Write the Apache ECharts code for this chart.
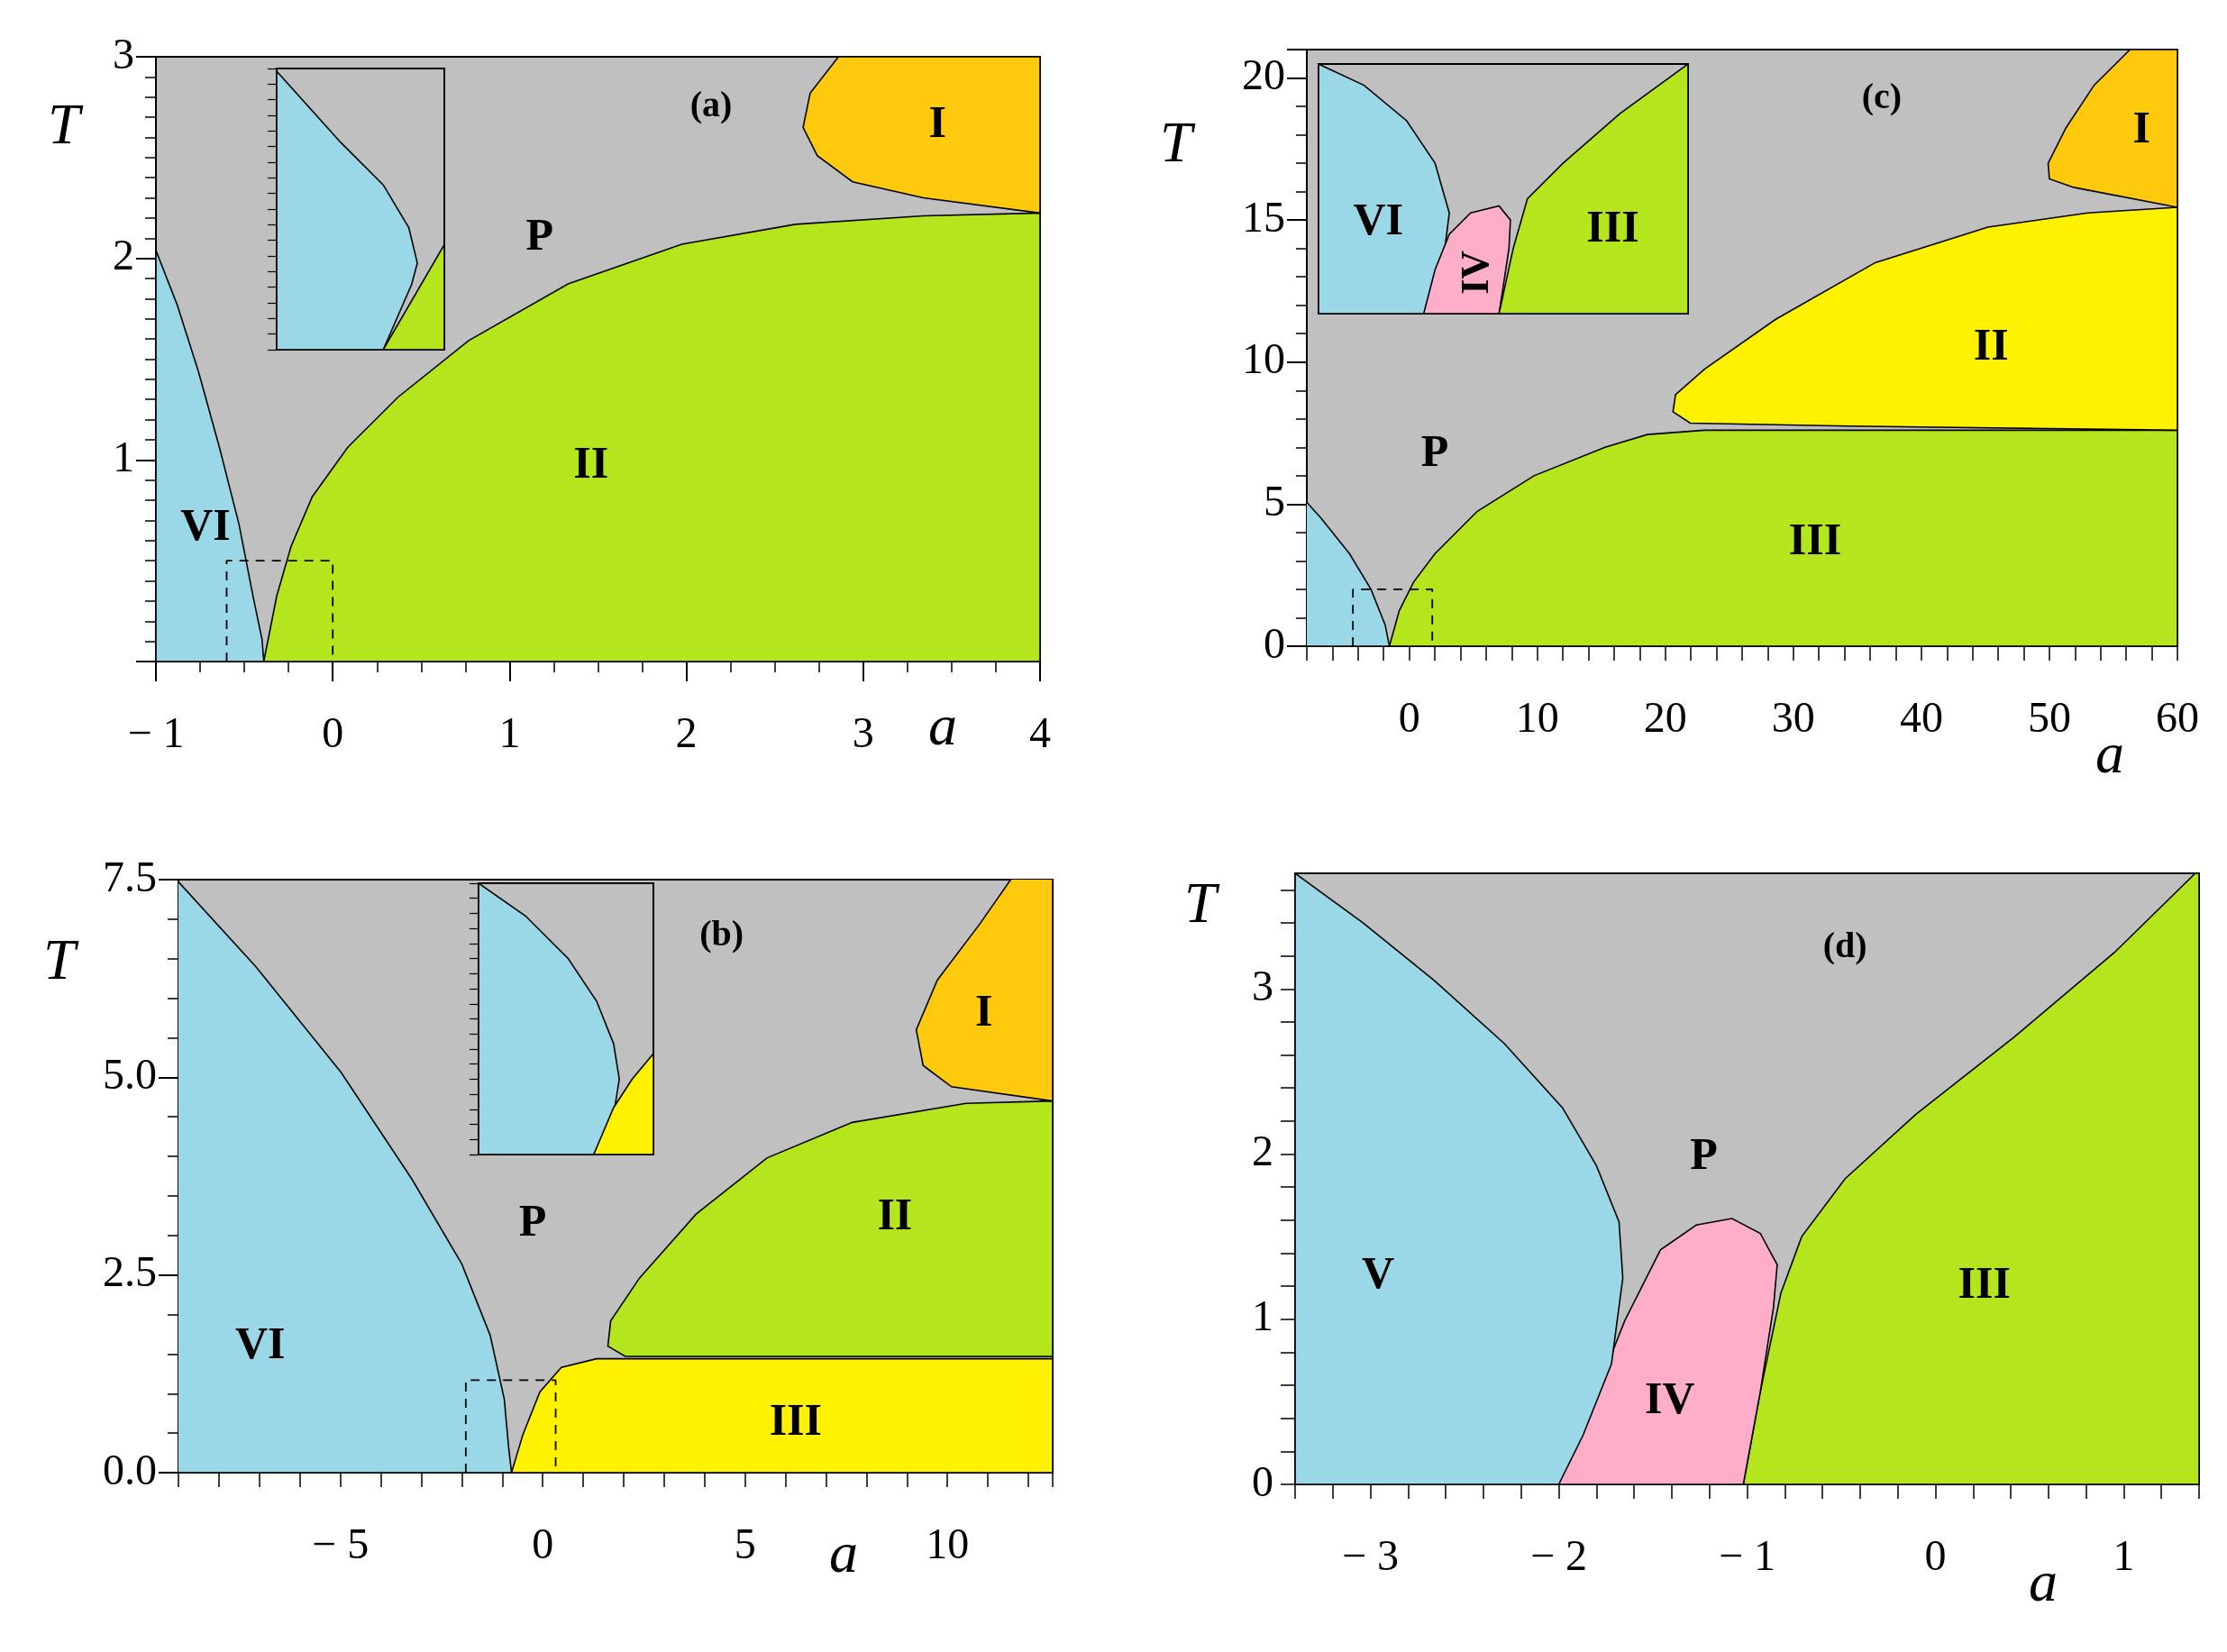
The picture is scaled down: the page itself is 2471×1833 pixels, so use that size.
<!DOCTYPE html>
<html><head><meta charset="utf-8">
<script src="https://cdn.jsdelivr.net/npm/echarts@6/dist/echarts.min.js"></script>
<style>html,body{margin:0;padding:0;background:#fff}#c{width:2471px;height:1833px}</style>
</head><body><div id="c"></div>
<script>
// ---- Panel (a) regions (a, T) ----
const aVI = [[-1,2.04],[-0.88,1.77],[-0.76,1.44],[-0.64,1.06],[-0.53,0.68],[-0.45,0.32],[-0.40,0.11],[-0.39,0],[-1,0]];
const aII = [[-0.39,0],[-0.317,0.324],[-0.236,0.57],[-0.116,0.817],[0.085,1.063],[0.367,1.31],[0.769,1.592],[1.331,1.873],[1.974,2.07],[2.617,2.169],[3.341,2.211],[4,2.225],[4,0]];
const aI = [[4,2.225],[3.34,2.30],[2.94,2.38],[2.74,2.51],[2.66,2.65],[2.70,2.82],[2.86,3],[4,3]];
// ---- Panel (c) ----
const cVI = [[-8.87,5.5],[-6.87,4.5],[-4.66,3.25],[-2.99,2.0],[-1.88,0.75],[-1.55,0],[-8.87,0]];
const cIII = [[-1.55,0],[-0.78,1.25],[0.33,2.25],[2.0,3.25],[5.32,4.75],[9.75,6.0],[15.3,7.0],[18.6,7.45],[23.06,7.6],[60,7.6],[60,0]];
const cII = [[60,7.6],[34.2,7.75],[21.95,7.85],[20.6,8.25],[20.8,8.85],[23.06,9.75],[28.6,11.5],[36.4,13.5],[45.2,14.75],[53.0,15.25],[60,15.45]];
const cI = [[60,15.45],[51.9,16.15],[50.0,16.45],[49.9,17.0],[51.3,18.25],[53.5,19.75],[56.3,21],[60,21]];
// ---- Panel (b) ----
const bVI = [[-9.05,7.5],[-7.09,6.4],[-4.98,5.06],[-3.23,3.71],[-2.0,2.64],[-1.30,1.74],[-0.95,0.93],[-0.84,0.31],[-0.77,0],[-9.05,0]];
const bIII = [[-0.77,0],[-0.49,0.48],[-0.07,1.02],[0.46,1.33],[1.33,1.44],[12.6,1.44],[12.6,0]];
const bII = [[12.6,1.47],[2.04,1.47],[1.61,1.60],[1.68,1.92],[2.39,2.46],[3.79,3.27],[5.54,3.98],[7.65,4.43],[10.46,4.67],[12.6,4.70]];
const bI = [[12.6,4.70],[10.1,4.88],[9.4,5.15],[9.23,5.6],[9.75,6.23],[10.8,6.94],[11.7,7.6],[12.6,7.6]];
// ---- Panel (d) ----
const dIII = [[-1.02,0],[-0.93,0.56],[-0.82,1.16],[-0.71,1.50],[-0.48,1.85],[-0.105,2.24],[0.42,2.71],[0.95,3.22],[1.38,3.70],[1.4,3.70],[1.4,0]];
const dIV = [[-2.0,0],[-1.83,0.47],[-1.65,0.99],[-1.46,1.42],[-1.27,1.57],[-1.08,1.61],[-0.93,1.52],[-0.84,1.33],[-0.86,1.07],[-0.93,0.56],[-1.02,0]];
const dV = [[-3.4,3.70],[-3.04,3.40],[-2.66,3.05],[-2.29,2.67],[-1.98,2.28],[-1.80,1.93],[-1.68,1.59],[-1.66,1.25],[-1.72,0.73],[-1.87,0.30],[-2.0,0],[-3.4,0]];
// ---- Insets (local box units) ----
const insA_VI = [[195,50],[240,100],[270,130],[288,160],[294,185],[290,200],[270,246],[195,246]];
const insA_II = [[270,246],[313,172],[313,246]];
const insC_VI = [[928,45],[960,60],[990,85],[1010,115],[1020,150],[1015,190],[1002,221],[928,221]];
const insC_IV = [[1002,221],[1010,190],[1020,165],[1035,150],[1055,145],[1063,155],[1062,175],[1055,221]];
const insC_III = [[1055,221],[1065,175],[1075,140],[1100,115],[1140,80],[1188,45],[1188,221]];
const insB_VI = [[337,622],[370,645],[400,675],[420,705],[432,735],[436,760],[432,785],[418,813],[337,813]];
const insB_III = [[418,813],[432,780],[445,760],[460,742],[460,813]];
// ---- Dashed zoom boxes ----
const boxA = [[-0.6,0],[-0.6,0.5],[0,0.5],[0,0]];
const boxC = [[-4.4,0],[-4.4,2],[1.8,2],[1.8,0]];
const boxB = [[-1.9,0],[-1.9,1.17],[0.32,1.17],[0.32,0]];
// ---- Labels ----
const labA = [['(a)',2.14,2.75,40],['I',3.42,2.66,50],['P',1.17,2.10,50],['II',1.46,0.97,50],['VI',-0.72,0.66,50]];
const labC = [['(c)',36.9,19.25,40],['I',57.2,18.15,50],['II',45.45,10.5,50],['P',2.0,6.75,50],['III',31.7,3.65,50]];
const labB = [['(b)',4.42,6.78,40],['I',10.9,5.8,50],['P',-0.25,3.14,50],['II',8.7,3.23,50],['VI',-6.98,1.6,50],['III',6.25,0.63,50]];
const labD = [['(d)',-0.48,3.25,40],['P',-1.23,1.98,50],['V',-2.96,1.26,50],['III',0.26,1.20,50],['IV',-1.41,0.5,50]];
const labInsC = [['VI',970,157,50,0],['III',1135,162,50,0],['IV',1040,192,44,90]];

const C = {grey:'#c0c0c0', blue:'#9ad8e8', green:'#b5e61d', orange:'#ffc90e', yellow:'#fff200', pink:'#ffaec9'};
const FONT = 'Liberation Serif';

function neg(v){ return v<0 ? '\u2212 '+Math.abs(v) : String(v); }

const grids = [
  {left:173,top:63,width:981,height:671},
  {left:1450,top:55,width:966,height:662},
  {left:198,top:976,width:970,height:658},
  {left:1437,top:969,width:1003,height:678},
  {left:307,top:76,width:186,height:312},
  {left:1463,top:71,width:410,height:277},
  {left:531,top:980,width:194,height:301}
].map(g=>Object.assign(g,{show:true,backgroundColor:C.grey,borderColor:'#000',borderWidth:2}));

const LBL = {fontFamily:FONT,fontSize:48,color:'#000'};
function axis(type, gi, min, max, interval, fmt, minor, opts){
  const a = {type:'value', gridIndex:gi, min, max, interval,
    splitLine:{show:false},
    axisLine:{show:true,onZero:false,lineStyle:{color:'#000',width:2}},
    axisTick:{show:true,inside:false,length:22,lineStyle:{color:'#000',width:2}},
    minorTick:{show:!!minor,splitNumber:minor||5,length:12,lineStyle:{color:'#000',width:1.5}},
    axisLabel:Object.assign({show:true,formatter:fmt,margin:type==='x'?58:24},LBL)};
  return Object.assign(a, opts||{});
}
const smallTick = {axisTick:{show:true,length:16,lineStyle:{color:'#000',width:1.5}}};
const xAxes = [
  axis('x',0,-1,4,1,v=>neg(v),4),
  axis('x',1,-8,60,2,v=>(v%10===0?neg(v):''),0,smallTick),
  axis('x',2,-9,12.6,1,v=>(Math.abs(v%5)<1e-6?neg(Math.round(v)):''),0,smallTick),
  axis('x',3,-3.4,1.4,0.2,v=>(Math.abs(v-Math.round(v))<1e-6?neg(Math.round(v)):''),0,smallTick),
];
const yAxes = [
  axis('y',0,0,3,1,null,10,{axisLabel:Object.assign({formatter:v=>String(v),showMinLabel:false,margin:24},LBL)}),
  axis('y',1,0,21,5,null,5,{axisLabel:Object.assign({formatter:v=>String(v),showMaxLabel:false,margin:24},LBL)}),
  axis('y',2,0,7.5,2.5,v=>v.toFixed(1),5),
  axis('y',3,0,3.7,0.2,null,0,Object.assign({axisLabel:Object.assign({showMaxLabel:false,formatter:v=>(Math.abs(v-Math.round(v))<1e-6?String(Math.round(v)):''),margin:24},LBL)},smallTick)),
];
function insetAxes(gi, x0, x1, y0, y1, ticks){
  xAxes.push({type:'value',gridIndex:gi,min:x0,max:x1,show:false});
  yAxes.push({type:'value',gridIndex:gi,min:y0,max:y1,inverse:true,interval:(y1-y0)/18,
    splitLine:{show:false},axisLabel:{show:false},
    axisLine:{show:true,lineStyle:{color:'#000',width:2}},
    axisTick:{show:ticks,inside:false,length:10,lineStyle:{color:'#000',width:1.2}}});
}
insetAxes(4,195,313,48,246,true);
insetAxes(5,928,1188,45,221,false);
insetAxes(6,337,460,622,813,true);

const series = [];
function poly(gi, pts, color){
  series.push({type:'custom',xAxisIndex:gi,yAxisIndex:gi,clip:true,silent:true,data:[[0,0]],
    renderItem:(p,api)=>({type:'polygon',shape:{points:pts.map(q=>api.coord(q))},
      style:{fill:color,stroke:'#000',lineWidth:1.6}})});
}
function dashed(gi, pts){
  series.push({type:'line',xAxisIndex:gi,yAxisIndex:gi,data:pts,symbol:'none',silent:true,
    lineStyle:{color:'#000',width:1.8,type:[10,8]},z:5});
}
function labels(gi, arr){
  series.push({type:'custom',xAxisIndex:gi,yAxisIndex:gi,silent:true,z:10,data:arr.map((r,i)=>[r[1],r[2],i]),
    renderItem:(p,api)=>{const r=arr[p.dataIndex];const pt=api.coord([r[1],r[2]]);
      return {type:'text',x:pt[0],y:pt[1],rotation:(r[4]||0)*Math.PI/180,
        style:{text:r[0],font:'bold '+r[3]+'px "'+FONT+'"',fill:'#000',align:'center',verticalAlign:'middle'}};}});
}
poly(0,aVI,C.blue); poly(0,aII,C.green); poly(0,aI,C.orange); dashed(0,boxA); labels(0,labA);
poly(1,cVI,C.blue); poly(1,cIII,C.green); poly(1,cII,C.yellow); poly(1,cI,C.orange); dashed(1,boxC); labels(1,labC);
poly(2,bVI,C.blue); poly(2,bIII,C.yellow); poly(2,bII,C.green); poly(2,bI,C.orange); dashed(2,boxB); labels(2,labB);
poly(3,dIII,C.green); poly(3,dIV,C.pink); poly(3,dV,C.blue); labels(3,labD);
poly(4,insA_VI,C.blue); poly(4,insA_II,C.green);
poly(5,insC_VI,C.blue); poly(5,insC_IV,C.pink); poly(5,insC_III,C.green); labels(5,labInsC);
poly(6,insB_VI,C.blue); poly(6,insB_III,C.yellow);

const it = {fontFamily:FONT,fontStyle:'italic',fill:'#000'};
const graphic = [
  ['T',71,145,64],['a',1048,812,64],
  ['T',1305,165,64],['a',2343,843,64],
  ['T',66,1072,64],['a',938,1730,64],
  ['T',1332,1009,64],['a',2269,1762,64]
].map(g=>({type:'text',left:g[1]-18,top:g[2]-35,style:Object.assign({text:g[0],fontSize:g[3]},it)}));

const chart = echarts.init(document.getElementById('c'));
chart.setOption({animation:false,backgroundColor:'#fff',textStyle:{fontFamily:FONT},grid:grids,xAxis:xAxes,yAxis:yAxes,series,graphic});
</script></body></html>
